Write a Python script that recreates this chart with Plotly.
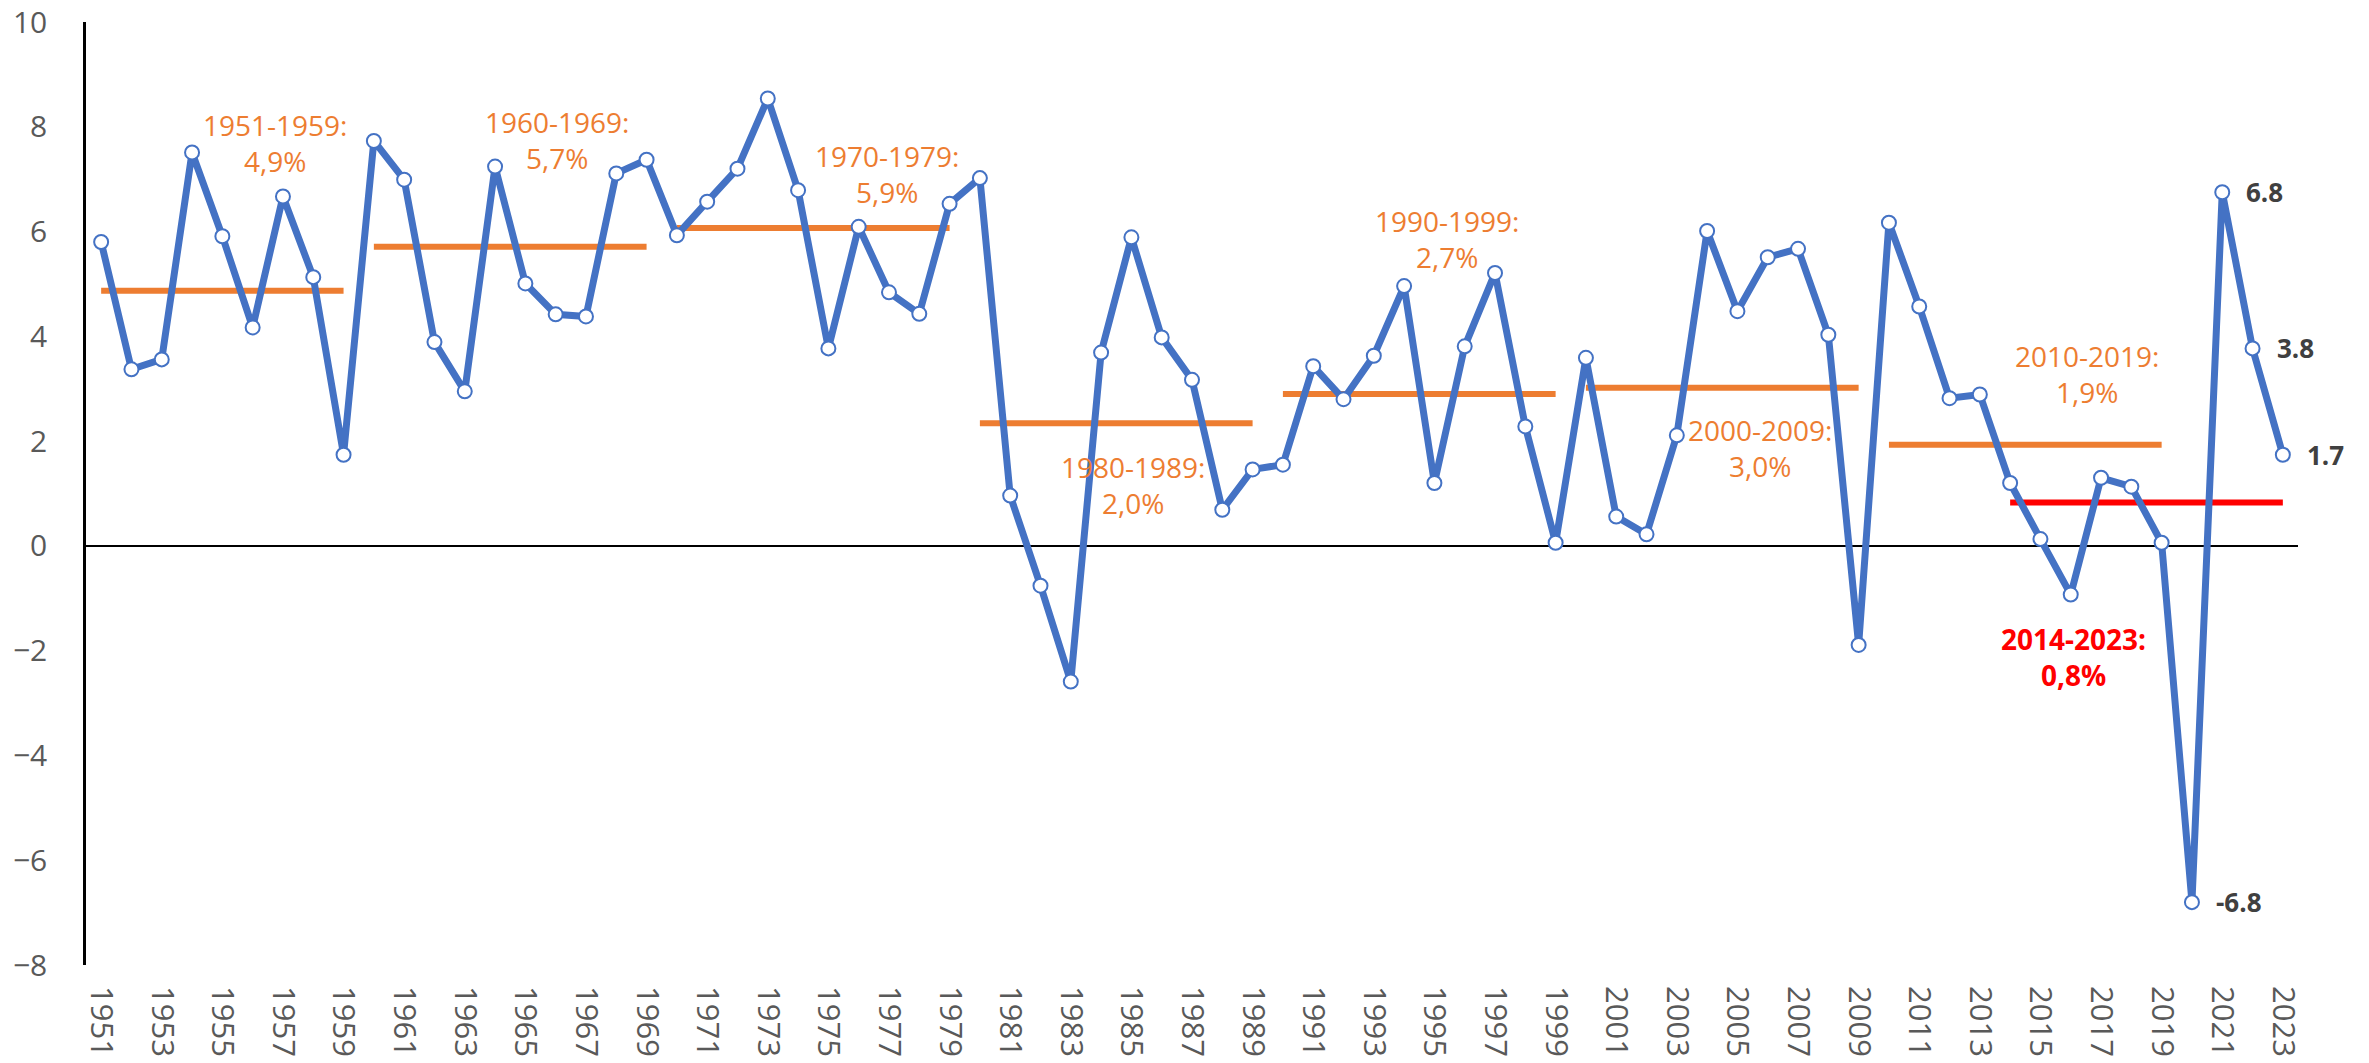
import plotly.graph_objects as go

years = list(range(1951, 2024))
growth = [
    5.80, 3.37, 3.56, 7.51, 5.91, 4.17, 6.67, 5.13, 1.74,
    7.73, 6.99, 3.89, 2.95, 7.24, 5.01, 4.42, 4.38, 7.11, 7.37,
    5.93, 6.57, 7.20, 8.54, 6.79, 3.77, 6.09, 4.84, 4.43, 6.53,
    7.02, 0.96, -0.76, -2.59, 3.69, 5.89, 3.98, 3.17, 0.69, 1.46,
    1.55, 3.43, 2.80, 3.63, 4.96, 1.20, 3.81, 5.21, 2.28, 0.06,
    3.59, 0.56, 0.22, 2.11, 6.01, 4.48, 5.51, 5.67, 4.03, -1.89,
    6.17, 4.57, 2.82, 2.89, 1.20, 0.13, -0.93, 1.30, 1.13, 0.06,
    -6.80, 6.75, 3.77, 1.74,
]

period_start = [1951, 1960, 1970, 1980, 1990, 2000, 2010, 2014]
period_end = [1959, 1969, 1979, 1989, 1999, 2009, 2019, 2023]
period_mean = [4.87, 5.71, 6.07, 2.34, 2.90, 3.02, 1.93, 0.83]
period_label = ["1951-1959:<br>4,9%", "1960-1969:<br>5,7%", "1970-1979:<br>5,9%",
                "1980-1989:<br>2,0%", "1990-1999:<br>2,7%", "2000-2009:<br>3,0%",
                "2010-2019:<br>1,9%", "2014-2023:<br>0,8%"]
labelled_years = [2020, 2021, 2022, 2023]

# layout positions of the period captions (data coordinates)
caption_x = [1956.74, 1966.05, 1976.94, 1985.06, 1995.42, 2005.75, 2016.55, 2016.1]
caption_y = [7.69, 7.75, 7.09, 1.16, 5.86, 1.86, 3.29, -2.12]

ORANGE = "#ED7D31"
RED = "#FF0000"
BLUE = "#4472C4"
FONT = "Open Sans"

fig = go.Figure()

for i, (s, e, m) in enumerate(zip(period_start, period_end, period_mean)):
    red = i == len(period_start) - 1
    fig.add_trace(go.Scatter(
        x=[s, e], y=[m, m], mode="lines",
        line=dict(color=RED if red else ORANGE, width=6),
        hoverinfo="skip", showlegend=False,
    ))

fig.add_trace(go.Scatter(
    x=years, y=growth, mode="lines+markers",
    line=dict(color=BLUE, width=7),
    marker=dict(symbol="circle", size=14, color="white", line=dict(color=BLUE, width=2)),
    showlegend=False,
))

annotations = []
for i, (lbl, cx, cy) in enumerate(zip(period_label, caption_x, caption_y)):
    red = i == len(period_label) - 1
    annotations.append(dict(
        x=cx, y=cy, xref="x", yref="y", text=(f"<b>{lbl}</b>" if red else lbl),
        showarrow=False, align="center",
        font=dict(family=FONT, size=28, color=RED if red else ORANGE),
    ))

for yr in labelled_years:
    v = growth[years.index(yr)]
    annotations.append(dict(
        x=yr, y=v, xref="x", yref="y", text=f"<b>{v:.1f}</b>",
        showarrow=False, xanchor="left", xshift=22,
        font=dict(family=FONT, size=26, color="#404040"),
    ))

fig.update_layout(
    width=2369, height=1063,
    margin=dict(l=86, r=71, t=22, b=98),
    paper_bgcolor="white", plot_bgcolor="white",
    font=dict(family=FONT, color="#595959"),
    annotations=annotations,
    xaxis=dict(
        range=[1950.5, 2023.5], tickmode="linear", tick0=1951, dtick=2,
        tickangle=90, showgrid=False, zeroline=False, showline=False,
        ticks="", tickfont=dict(family=FONT, size=31, color="#595959"),
        ticklabelstandoff=20, automargin=False,
    ),
    yaxis=dict(
        range=[-8, 10], tickmode="linear", tick0=-8, dtick=2,
        showgrid=False, zeroline=True, zerolinecolor="black", zerolinewidth=1.5,
        showline=True, linecolor="black", linewidth=2.5,
        ticks="", tickfont=dict(family=FONT, size=30, color="#595959"),
        ticklabelstandoff=30, automargin=False,
    ),
)

fig.write_html(
    "out.html",
    config={"displayModeBar": False},
    post_script="document.body.style.margin='0';document.body.style.overflow='hidden';",
)
